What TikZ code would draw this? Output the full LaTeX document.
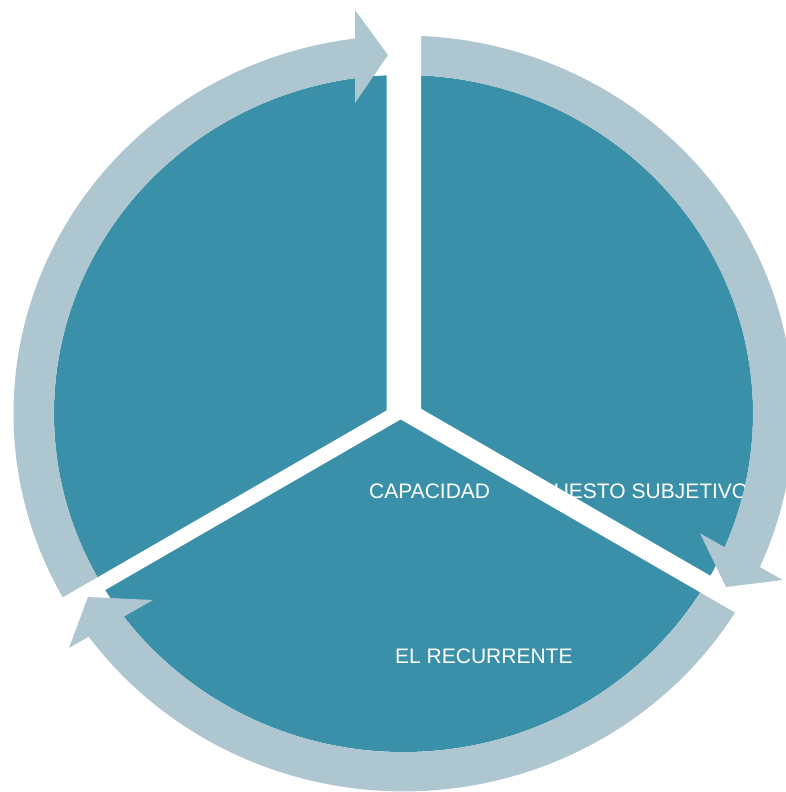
\documentclass[tikz,border=0pt]{standalone}
\usepackage{fontspec}
\setmainfont{Liberation Sans}
\usepackage{tikz}
\definecolor{piecol}{HTML}{3A90A8}
\definecolor{ringcol}{HTML}{AEC6D0}
\def\pieR{349.5}
\def\ringR{390}
\def\squash{0.969}
\tikzstyle{sector}=[fill=piecol]
\tikzstyle{ringarc}=[fill=ringcol]
\tikzstyle{arrowhead}=[fill=ringcol]
\tikzstyle{gap}=[fill=white]
\tikzstyle{segtext}=[text=white, font=\fontsize{21}{25}\selectfont,
    inner sep=0pt, anchor=west]

\begin{document}
\begin{tikzpicture}[x=1pt, y=1pt]
            \useasboundingbox (-403.5,-378.5) rectangle (382.5,413.5);
            \fill[sector] (0,0) ellipse [x radius=\pieR, y radius=338.5];
            \node[segtext] (capacidad) at (-34.5,-77.5) {CAPACIDAD};
            \node[segtext] (subjetivo) at (150.1,-77.5) {UESTO SUBJETIVO};
            \node[segtext] (recurrente) at (-8.5,-242.5) {EL RECURRENTE};
            \begin{scope}[yscale=\squash]
                \fill[ringarc] (210:\ringR) arc [start angle=210, end angle=97, radius=\ringR]
                    -- (97:\pieR) arc [start angle=97, end angle=210, radius=\pieR] -- cycle;
                \fill[ringarc] (90:\ringR) arc [start angle=90, end angle=-24, radius=\ringR]
                    -- (-24:\pieR) arc [start angle=-24, end angle=90, radius=\pieR] -- cycle;
                \fill[ringarc] (-30:\ringR) arc [start angle=-30, end angle=-144, radius=\ringR]
                    -- (-144:\pieR) arc [start angle=-144, end angle=-30, radius=\pieR] -- cycle;
            \end{scope}
            \coordinate (tl) at (-16.8,3.1);
            \coordinate (tr) at (17.5,4.8);
            \coordinate (bt) at (-2.8,-5.9);
            \fill[gap] (tl) -- ++(0,420) -| (tr) -- ([shift={(-30:450)}]tr)
                -- ([shift={(-30:450)}]bt) -- (bt) -- ([shift={(210:450)}]bt)
                -- ([shift={(210:450)}]tl) -- cycle;
            \fill[arrowhead] (-48.5,403.5) -- (-15.5,358.5) -- (-48.5,310.5) -- cycle;
            \fill[arrowhead] (379.2,-166.5) -- (322.5,-173.5) -- (296.5,-119.8) -- cycle;
            \fill[arrowhead] (-250.5,-186.5) -- (-315.5,-183.5) -- (-334.5,-234.5) -- cycle;
        \end{tikzpicture}
\end{document}
